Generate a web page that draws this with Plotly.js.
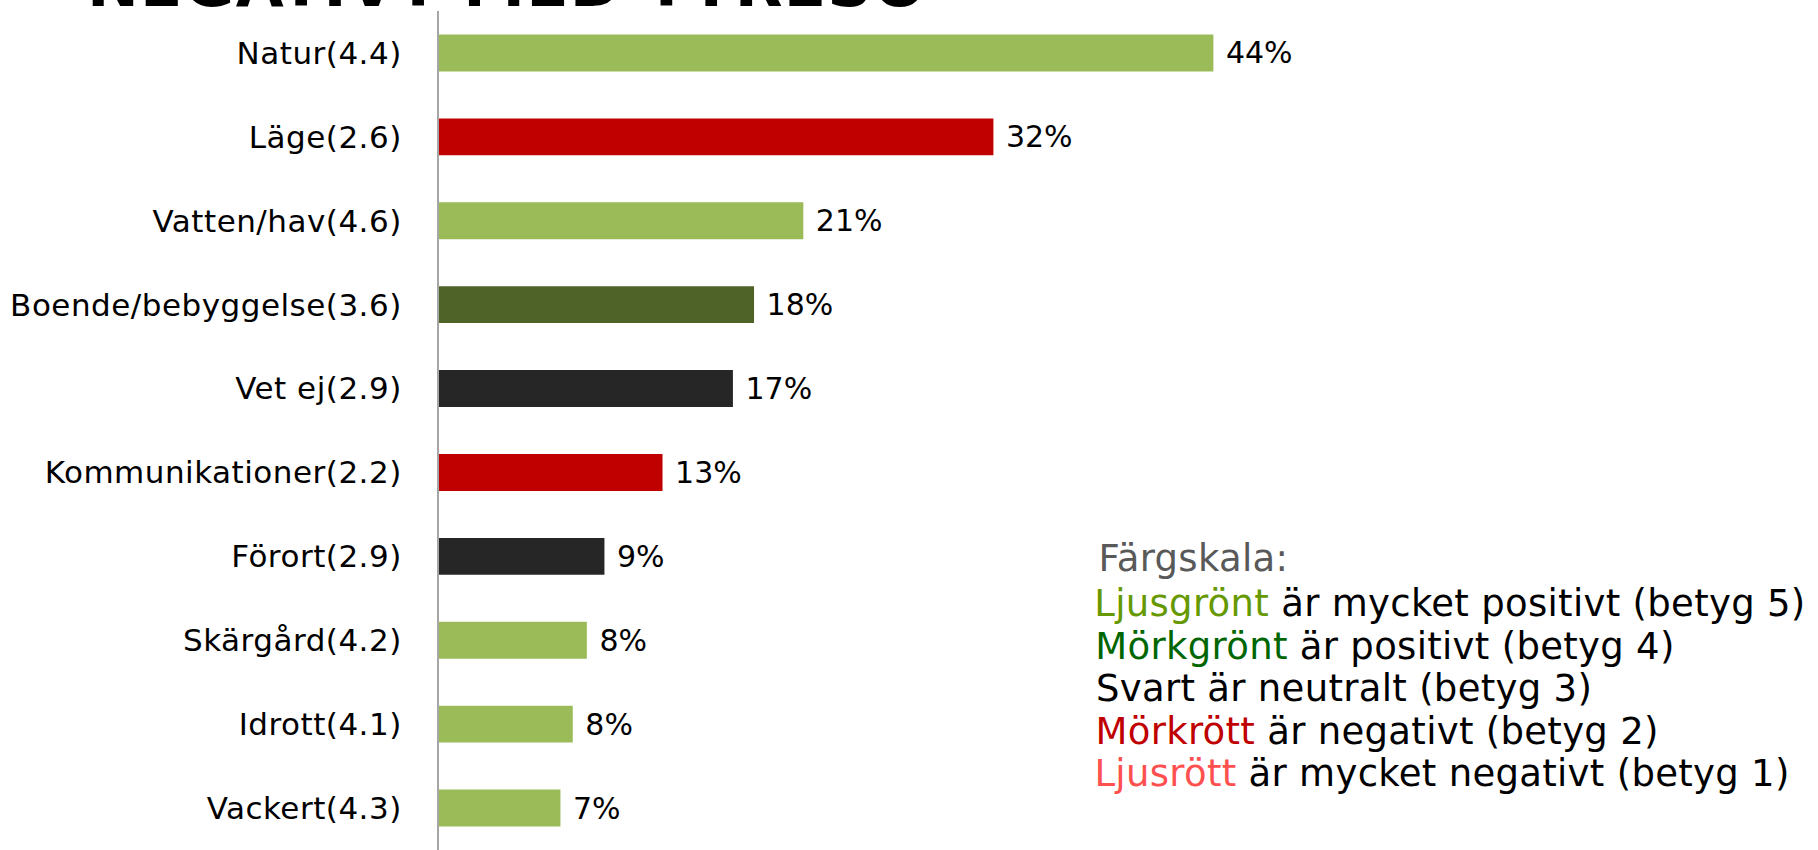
<!DOCTYPE html>
<html>
<head>
<meta charset="utf-8">
<script src="https://cdn.plot.ly/plotly-3.0.1.min.js"></script>
<style>
html,body{margin:0;padding:0;background:#fff;}
#chart{width:1818px;height:850px;}
#chart .ytick text{letter-spacing:0.5px;}
#chart .annotation-text{letter-spacing:0.3px;}
#chart .gtitle{letter-spacing:1.2px;}
</style>
</head>
<body>
<div id="chart"></div>
<script>
// Data
const categories = ["Natur(4.4)", "Läge(2.6)", "Vatten/hav(4.6)", "Boende/bebyggelse(3.6)", "Vet ej(2.9)",
  "Kommunikationer(2.2)", "Förort(2.9)", "Skärgård(4.2)", "Idrott(4.1)", "Vackert(4.3)"];
const shares = [44, 31.5, 20.7, 17.9, 16.7, 12.7, 9.4, 8.4, 7.6, 6.9];
const colorClass = ["ljusgront", "morkrott", "ljusgront", "morkgront", "svart",
  "morkrott", "svart", "ljusgront", "ljusgront", "ljusgront"];
const titleText = "NEGATIVT MED TYRESÖ";
const scaleHeading = "Färgskala:";
const scaleWords = ["Ljusgrönt", "Mörkgrönt", "Svart", "Mörkrött", "Ljusrött"];
const scaleRest = [" är mycket positivt (betyg 5)", " är positivt (betyg 4)", " är neutralt (betyg 3)",
  " är negativt (betyg 2)", " är mycket negativt (betyg 1)"];

// Styles
const barPalette = {ljusgront: "#9BBB59", morkgront: "#4F6228", svart: "#262626", morkrott: "#C00000", ljusrott: "#FF5050"};
const wordPalette = ["#669900", "#006600", "#000000", "#C00000", "#FF5050"];
const FONT = "'DejaVu Sans', Roboto, sans-serif";

const W = 1818, H = 850;
const mL = 439, mR = 59, mT = 11, mB = 0;
const plotH = H - mT - mB, plotW = W - mL - mR;
const yPaper = p => 1 - (p - mT) / plotH;
const xPaper = p => (p - mL) / plotW;

const trace = {
  type: "bar",
  orientation: "h",
  y: categories,
  x: shares,
  marker: {color: colorClass.map(c => barPalette[c])},
  text: shares.map(v => "\u00a0" + Math.round(v) + "%"),
  textposition: "outside",
  textfont: {family: FONT, size: 30, color: "#000"},
  cliponaxis: false,
  hoverinfo: "none"
};

const annotations = [];
annotations.push({
  xref: "paper", yref: "paper", x: xPaper(1098), y: yPaper(558), xanchor: "left", yanchor: "middle",
  text: scaleHeading, showarrow: false, font: {family: FONT, size: 37, color: "#595959"}
});
const lineY = [603, 646, 688, 731, 773];
for (let i = 0; i < scaleWords.length; i++) {
  annotations.push({
    xref: "paper", yref: "paper", x: xPaper(1098), y: yPaper(lineY[i]), xanchor: "left", yanchor: "middle",
    text: '<span style="color:' + wordPalette[i] + '">' + scaleWords[i] + '</span>' + scaleRest[i],
    showarrow: false, font: {family: FONT, size: 37, color: "#000"}
  });
}

const layout = {
  width: W, height: H,
  margin: {l: mL, r: mR, t: mT, b: mB, pad: 0},
  paper_bgcolor: "#fff", plot_bgcolor: "#fff",
  showlegend: false,
  bargap: 0.56,
  title: {
    text: "<b>" + titleText + "</b>",
    x: 87 / W, xanchor: "left", xref: "container",
    y: 1 - 6 / H, yanchor: "bottom", yref: "container",
    font: {family: FONT, size: 62, color: "#000"}
  },
  xaxis: {range: [0, 75], visible: false, fixedrange: true},
  yaxis: {
    autorange: "reversed",
    showline: true, linecolor: "#A6A6A6", linewidth: 2,
    ticks: "", showgrid: false, zeroline: false,
    ticklabelstandoff: 29,
    tickfont: {family: FONT, size: 31, color: "#000"}
  },
  annotations: annotations
};

Plotly.newPlot("chart", [trace], layout, {displayModeBar: false, staticPlot: true});
</script>
</body>
</html>
